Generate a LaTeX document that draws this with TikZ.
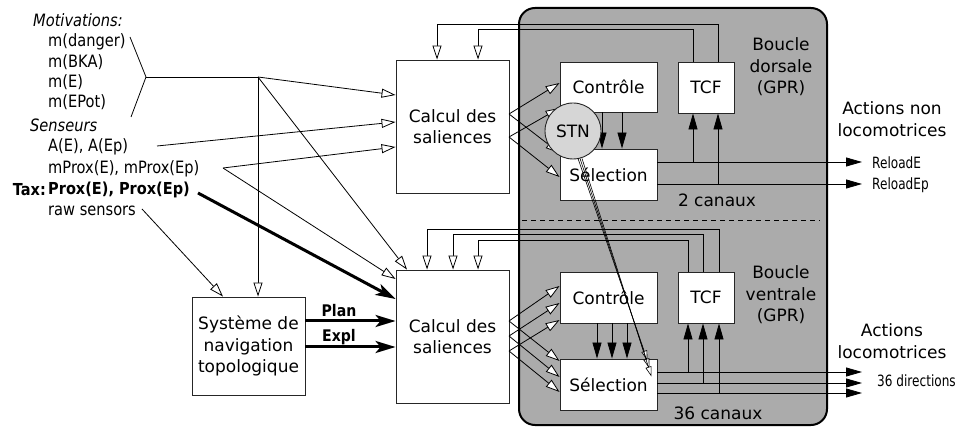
\documentclass[tikz,border=0pt]{standalone}
\usepackage{fontspec}
\setmainfont{DejaVu Sans}
\newfontfamily\condfont[FakeStretch=0.88]{DejaVu Sans}
\newfontfamily\leftfont[FakeStretch=0.86]{DejaVu Sans}
\newfontfamily\narrowfont[FakeStretch=0.78]{DejaVu Sans}
\usetikzlibrary{arrows.meta,calc}
\definecolor{loopgray}{HTML}{ABABAB}
\definecolor{stngray}{HTML}{D6D6D6}
\begin{document}
\begin{tikzpicture}[x=1pt,y=-1pt,
  box/.style={draw=black!85, fill=white, line width=0.9pt, inner sep=0pt, align=center, font=\fontsize{17}{21.5}\selectfont},
  lbl/.style={inner sep=0pt, align=center, font=\fontsize{17}{21.5}\selectfont},
  inlbl/.style={inner sep=0pt, anchor=west, font=\leftfont\fontsize{17}{19}\selectfont},
  outlbl/.style={inner sep=0pt, anchor=west, font=\narrowfont\fontsize{15.5}{17}\selectfont},
  conn/.style={line width=0.8pt},
  oarr/.style={conn, -{Triangle[length=14pt,width=9pt,fill=white]}},
  sarr/.style={line width=0.6pt, -{Triangle[length=10pt,width=6pt,fill=white]}},
  farr/.style={conn, -{Triangle[length=16pt,width=9pt]}},
  thk/.style={line width=3pt, -{Stealth[length=20pt,width=12pt,inset=5pt]}},
]
\useasboundingbox (0,0) rectangle (966,427);

% gray loop box
\node[draw, line width=2pt, rounded corners=16pt, fill=loopgray, minimum width=308pt, minimum height=417pt, inner sep=0pt] (gpr) at (673,216.5) {};
\coordinate (dl) at (522,220);
\coordinate (dr) at (820,220);
\draw[line width=0.8pt, dash pattern=on 5pt off 4pt] (dl) -- (dr);

% boxes
\node[box, minimum width=97pt, minimum height=50pt] (ctrl1) at (608.5,87) {Contrôle};
\node[box, minimum width=56pt, minimum height=51pt] (tcf1) at (706,87.5) {TCF};
\node[box, minimum width=97pt, minimum height=51pt] (sel1) at (608.5,174.5) {Sélection};
\node[box, minimum width=97pt, minimum height=51pt] (ctrl2) at (608.5,297.5) {Contrôle};
\node[box, minimum width=56pt, minimum height=51pt] (tcf2) at (706,297.5) {TCF};
\node[box, minimum width=97pt, minimum height=51pt] (sel2) at (608.5,384.5) {Sélection};
\node[box, minimum width=113pt, minimum height=133pt] (calc1) at (452.5,126.5) {Calcul des\\saliences};
\node[box, minimum width=113pt, minimum height=133pt] (calc2) at (452.5,336.5) {Calcul des\\saliences};
\node[box, minimum width=113pt, minimum height=98pt] (nav) at (248.5,346) {Système de\\navigation\\topologique};

% feedback lines (dorsal)
\draw[oarr] (tcf1.north -| 718,0) -- (718,24) -- (437,24) -- (calc1.north -| 437,0);
\draw[oarr] (tcf1.north -| 693,0) -- (693,29) -- (478,29) -- (calc1.north -| 478,0);
% feedback lines (ventral)
\draw[oarr] (tcf2.north -| 719,0) -- (719,229) -- (427,229) -- (calc2.north -| 427,0);
\draw[oarr] (tcf2.north -| 703,0) -- (703,234) -- (453,234) -- (calc2.north -| 453,0);
\draw[oarr] (tcf2.north -| 688,0) -- (688,240) -- (478,240) -- (calc2.north -| 478,0);

% loop labels
\node[lbl] (bd) at (781,67) {Boucle\\dorsale\\(GPR)};
\node[lbl] (bv) at (781,295) {Boucle\\ventrale\\(GPR)};
\node[lbl] (c2) at (717,200) {2 canaux};
\node[lbl] (c36) at (718,413) {36 canaux};
\node[lbl] (anl) at (892,119) {Actions non\\locomotrices};
\node[lbl] (al) at (892,341) {Actions\\locomotrices};
\node[outlbl] (re) at (872,163) {ReloadE};
\node[outlbl] (rep) at (872,185) {ReloadEp};
\node[outlbl] (dirs) at (877,381) {36 directions};

% Controle -> Selection
\draw[farr] (ctrl1.south -| 602,0) -- (sel1.north -| 602,0);
\draw[farr] (ctrl1.south -| 622,0) -- (sel1.north -| 622,0);
\draw[farr] (ctrl2.south -| 597,0) -- (sel2.north -| 597,0);
\draw[farr] (ctrl2.south -| 612,0) -- (sel2.north -| 612,0);
\draw[farr] (ctrl2.south -| 627,0) -- (sel2.north -| 627,0);

% outputs dorsal
\coordinate (o1) at (862,162);
\coordinate (o2) at (862,184);
\draw[farr] (sel1.east |- o1) -- (o1);
\draw[farr] (sel1.east |- o2) -- (o2);
\draw[farr] (693,162) -- (tcf1.south -| 693,0);
\draw[farr] (718,184) -- (tcf1.south -| 718,0);
% outputs ventral
\coordinate (v1) at (862,372);
\coordinate (v2) at (862,383);
\coordinate (v3) at (862,393);
\draw[farr] (sel2.east |- v1) -- (v1);
\draw[farr] (sel2.east |- v2) -- (v2);
\draw[farr] (sel2.east |- v3) -- (v3);
\draw[farr] (688,372) -- (tcf2.south -| 688,0);
\draw[farr] (703,383) -- (tcf2.south -| 703,0);
\draw[farr] (719,393) -- (tcf2.south -| 719,0);

% Calcul -> loops (dorsal)
\coordinate (d1) at (509,114);
\coordinate (d2) at (509,137);
\draw[oarr] (d1) -- (ctrl1.west |- 0,83);
\draw[oarr] (d1) -- (sel1.west |- 0,153);
\draw[oarr] (d2) -- (ctrl1.west |- 0,108);
\draw[oarr] (d2) -- (sel1.west |- 0,177);
% Calcul -> loops (ventral)
\coordinate (w1) at (509,321);
\coordinate (w2) at (509,336);
\coordinate (w3) at (509,351);
\draw[oarr] (w1) -- (ctrl2.west |- 0,286);
\draw[oarr] (w1) -- (sel2.west |- 0,361);
\draw[oarr] (w2) -- (ctrl2.west |- 0,303);
\draw[oarr] (w2) -- (sel2.west |- 0,377);
\draw[oarr] (w3) -- (ctrl2.west |- 0,320);
\draw[oarr] (w3) -- (sel2.west |- 0,392);

% STN
\node[draw=black!85, line width=0.9pt, circle, fill=stngray, minimum size=56pt, inner sep=0pt, font=\fontsize{17}{20}\selectfont] (stn) at (573,131) {STN};
\draw[sarr] ($(stn.south)+(5,-1)$) -- ($(sel2.north east)+(-10,2)$);
\draw[sarr] ($(stn.south)+(7,-1)$) -- ($(sel2.north east)+(-8,10)$);
\draw[sarr] ($(stn.south)+(9,-1)$) -- ($(sel2.north east)+(-6,18)$);

% left labels
\node[inlbl, font=\leftfont\fontsize{17}{19}\selectfont\itshape] (lmot) at (33,20) {Motivations:};
\node[inlbl] (ldanger) at (48,42) {m(danger)};
\node[inlbl] (lbka) at (48,62) {m(BKA)};
\node[inlbl] (le) at (48,82) {m(E)};
\node[inlbl] (lepot) at (48,102) {m(EPot)};
\node[inlbl, font=\leftfont\fontsize{17}{19}\selectfont\itshape] (lsens) at (30,125) {Senseurs};
\node[inlbl] (lae) at (48,147) {A(E), A(Ep)};
\node[inlbl] (lmprox) at (48,169) {mProx(E), mProx(Ep)};
\node[inner sep=0pt, anchor=east, font=\condfont\bfseries\fontsize{16.5}{19}\selectfont] (ltax) at (46,190) {Tax:};
\node[inlbl, font=\condfont\bfseries\fontsize{16.5}{19}\selectfont] (lprox) at (48,190) {Prox(E), Prox(Ep)};
\node[inlbl] (lraw) at (48,211) {raw sensors};

% bracket and junction
\coordinate (brtop) at (130,37);
\coordinate (brapex) at (146,77);
\coordinate (brbot) at (131,117);
\coordinate (junc) at (258,77);
\draw[conn] (brtop) -- (brapex) -- (brbot);
\draw[conn] (brapex) -- (junc);

% inputs
\coordinate (aes) at (157,146);
\coordinate (mps) at (223,168);
\coordinate (raws) at (142,209);
\coordinate (taxs) at (198,193);
\draw[oarr] (junc) -- (calc1.west |- 0,95);
\draw[oarr] (aes) -- (calc1.west |- 0,122);
\draw[oarr] (mps) -- (calc1.west |- 0,147);
\draw[oarr] (mps) -- (calc2.west |- 0,279);
\draw[oarr] (junc) -- (calc2.north -| 407,0);
\draw[oarr] (junc) -- (nav.north -| 258,0);
\draw[oarr] (raws) -- (nav.north -| 223,0);
\draw[thk] (taxs) -- (calc2.west |- 0,299);
\draw[thk] (nav.east |- 0,321) -- (calc2.west |- 0,321);
\draw[thk] (nav.east |- 0,347) -- (calc2.west |- 0,347);
\node[inner sep=0pt, font=\condfont\bfseries\fontsize{16}{19}\selectfont] (lplan) at (339,311) {Plan};
\node[inner sep=0pt, font=\condfont\bfseries\fontsize{16}{19}\selectfont] (lexpl) at (339,337) {Expl};
\end{tikzpicture}
\end{document}
